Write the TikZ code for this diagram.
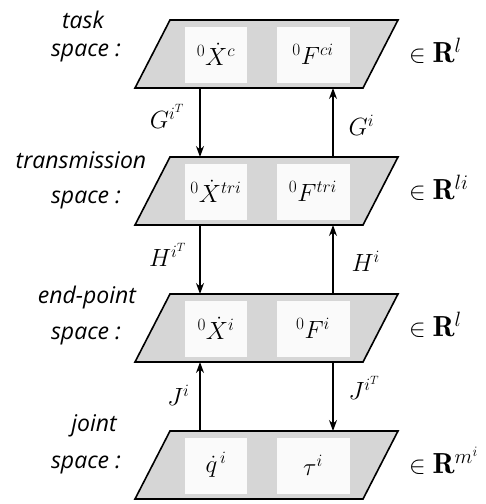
\documentclass[tikz,border=0pt]{standalone}
\usepackage{fontspec}
\setsansfont{Open Sans}
\usepackage{amsmath}
\usetikzlibrary{arrows.meta,positioning,calc}

\begin{document}
\begin{tikzpicture}[x=1pt, y=-1pt, >={Stealth[length=11pt,width=8pt]},
  plane/.style={draw, line width=1.6pt, fill=gray!32},
  hole/.style={fill=gray!4},
  txt/.style={font=\fontsize{26}{30}\selectfont, inner sep=1pt},
  maplbl/.style={font=\fontsize{25}{30}\selectfont, inner sep=0pt},
  dimlbl/.style={font=\fontsize{29}{32}\selectfont, inner sep=0pt, anchor=base west},
  lbl/.style={font=\fontsize{23}{26}\selectfont\sffamily\itshape, inner sep=0pt, anchor=base},
  arr/.style={->, line width=1.1pt}]
\useasboundingbox (0,0) rectangle (486,504);
% the four planes
\foreach \nm/\ty/\wx/\wy/\sy/\word/\va/\vb/\dm in {
  task/20/83/28/56/task/{{}^0\dot X^{c}}/{{}^0F^{ci}}/{l},
  trans/157/81/168/203/transmission/{{}^0\dot X^{tri}}/{{}^0F^{tri}}/{li},
  endp/294/87/303/339/end-point/{{}^0\dot X^{i}}/{{}^0F^{i}}/{l},
  joint/431/94/431/468/joint/{\dot q^{\,i}}/{\tau^{i}}/{m^i}}{
  \filldraw[plane] (170,\ty) -- (398,\ty) -- (363,\ty+68) -- (135,\ty+68) -- cycle;
  \fill[hole] (185,\ty+7) rectangle (247,\ty+63);
  \fill[hole] (277,\ty+7) rectangle (350,\ty+63);
  \coordinate (\nm-tl) at (200,\ty);
  \coordinate (\nm-tr) at (333,\ty);
  \coordinate (\nm-bl) at (200,\ty+68);
  \coordinate (\nm-br) at (333,\ty+68);
  \node[txt] (\nm-v) at (216,\ty+34) {$\va$};
  \node[txt] (\nm-f) at (313,\ty+34) {$\vb$};
  \node[dimlbl] (\nm-dim) at (409,\ty+42) {$\in\mathbf{R}^{\dm}$};
  \node[lbl] (\nm-sp) at (86,\sy) {space :};
  \node[lbl] (\nm-nm) at (\wx,\wy) {\word};
}
% maps between the planes
\draw[arr] (task-bl) -- node[maplbl, left=15pt, pos=.41] {$G^{i^T}$} (trans-tl);
\draw[arr] (trans-tr) -- node[maplbl, right=15pt, pos=.46] {$G^{i}$} (task-br);
\draw[arr] (trans-bl) -- node[maplbl, left=13pt, pos=.43] {$H^{i^T}$} (endp-tl);
\draw[arr] (endp-tr) -- node[maplbl, right=18pt, pos=.47] {$H^{i}$} (trans-br);
\draw[arr] (joint-tl) -- node[maplbl, left=10pt, pos=.52] {$J^{i}$} (endp-bl);
\draw[arr] (endp-br) -- node[maplbl, right=15pt, pos=.38] {$J^{i^T}$} (joint-tr);
\end{tikzpicture}
\end{document}
